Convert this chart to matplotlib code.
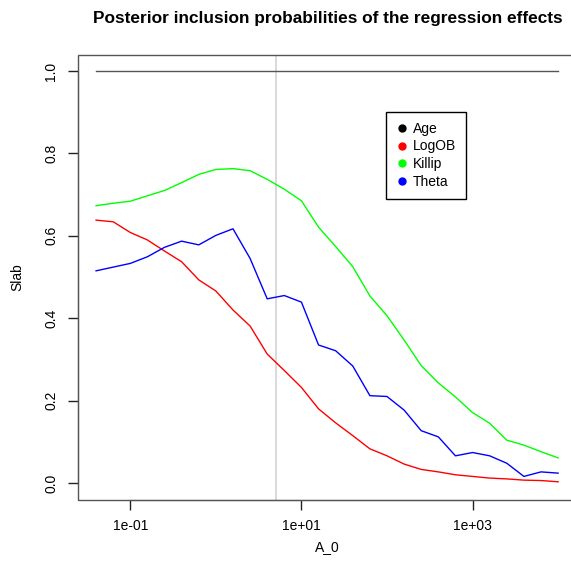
import matplotlib
matplotlib.use('Agg')
import matplotlib.pyplot as plt
from matplotlib.lines import Line2D
from matplotlib.patches import Rectangle

plt.rcParams['font.family'] = ['Liberation Sans', 'DejaVu Sans']

# prior scale grid A_0 (log spaced)
a0 = [0.0398, 0.0631, 0.1, 0.158, 0.251, 0.398, 0.631, 1.0, 1.585, 2.512,
      3.981, 6.31, 10.0, 15.85, 25.12, 39.81, 63.1, 100.0, 158.5, 251.2,
      398.1, 631.0, 1000.0, 1585.0, 2512.0, 3981.0, 6310.0, 10000.0]

age = [1.0] * 28
logob = [0.638, 0.634, 0.608, 0.590, 0.563, 0.537, 0.493, 0.466, 0.420, 0.381,
         0.313, 0.273, 0.232, 0.180, 0.146, 0.115, 0.083, 0.066, 0.046, 0.033,
         0.027, 0.020, 0.016, 0.012, 0.010, 0.007, 0.006, 0.003]
killip = [0.673, 0.679, 0.684, 0.697, 0.710, 0.729, 0.749, 0.761, 0.763, 0.758,
          0.737, 0.713, 0.685, 0.621, 0.574, 0.525, 0.454, 0.406, 0.347, 0.285,
          0.243, 0.209, 0.171, 0.145, 0.104, 0.092, 0.076, 0.061]
theta = [0.515, 0.524, 0.533, 0.549, 0.572, 0.587, 0.578, 0.601, 0.617, 0.545,
         0.447, 0.455, 0.439, 0.335, 0.321, 0.284, 0.212, 0.210, 0.177, 0.127,
         0.112, 0.066, 0.074, 0.066, 0.048, 0.016, 0.027, 0.024]

names = ['Age', 'LogOB', 'Killip', 'Theta']
cols = ['black', 'red', '#00ff00', 'blue']
chosen_a0 = 5

fig = plt.figure(figsize=(5.71, 5.68), dpi=100)
ax = fig.add_axes([77.6/571, 68.5/568, 499/571, 445/568])

ax.axvline(chosen_a0, color='#d3d3d3', lw=1.2, zorder=1)
ax.plot(a0, age, color='#555555', lw=1.0)
ax.plot(a0, logob, color='red', lw=1.0)
ax.plot(a0, killip, color='#00ff00', lw=1.0)
ax.plot(a0, theta, color='blue', lw=1.0)

ax.set_xscale('log')
ax.set_xlim(10**-1.616, 10**4.216)
ax.set_ylim(-0.04, 1.04)
ax.set_xticks([0.1, 10, 1000])
ax.set_xticklabels(['1e-01', '1e+01', '1e+03'])
ax.minorticks_off()
ax.set_yticks([0, 0.2, 0.4, 0.6, 0.8, 1.0])
ax.set_yticklabels(['0.0', '0.2', '0.4', '0.6', '0.8', '1.0'], rotation=90, va='center')
ax.tick_params(length=7, width=1, labelsize=10, pad=7, color='#222222')

for s in ['top', 'right']:
    ax.spines[s].set_visible(False)
ax.spines['bottom'].set_bounds(0.1, 1000)
ax.spines['left'].set_bounds(0, 1.0)
for s in ['bottom', 'left']:
    ax.spines[s].set_color('#222222')
ax.add_patch(Rectangle((0, 0), 1, 1, transform=ax.transAxes, fill=False,
                       ec='#555555', lw=1.0, clip_on=False, zorder=3))

handles = [Line2D([], [], ls='none', marker='o', ms=5, color=c) for c in cols]
leg = ax.legend(handles, names, loc='upper left', bbox_to_anchor=(0.619, 0.871),
                borderaxespad=0, fontsize=10, handlelength=0.8, handletextpad=0.4,
                labelspacing=0.27, borderpad=0.7, fancybox=False, framealpha=1)
leg.get_frame().set_edgecolor('black')
leg.get_frame().set_linewidth(1.0)

fig.text(328/571, 1 - 19/568, 'Posterior inclusion probabilities of the regression effects',
         ha='center', va='center', fontsize=12.4, fontweight='bold')
fig.text(327/571, 1 - 547/568, 'A_0', ha='center', va='center', fontsize=10)
fig.text(17/571, 1 - 277/568, 'Slab', ha='center', va='center', rotation=90, fontsize=10)

fig.savefig('out.png', dpi=100)
